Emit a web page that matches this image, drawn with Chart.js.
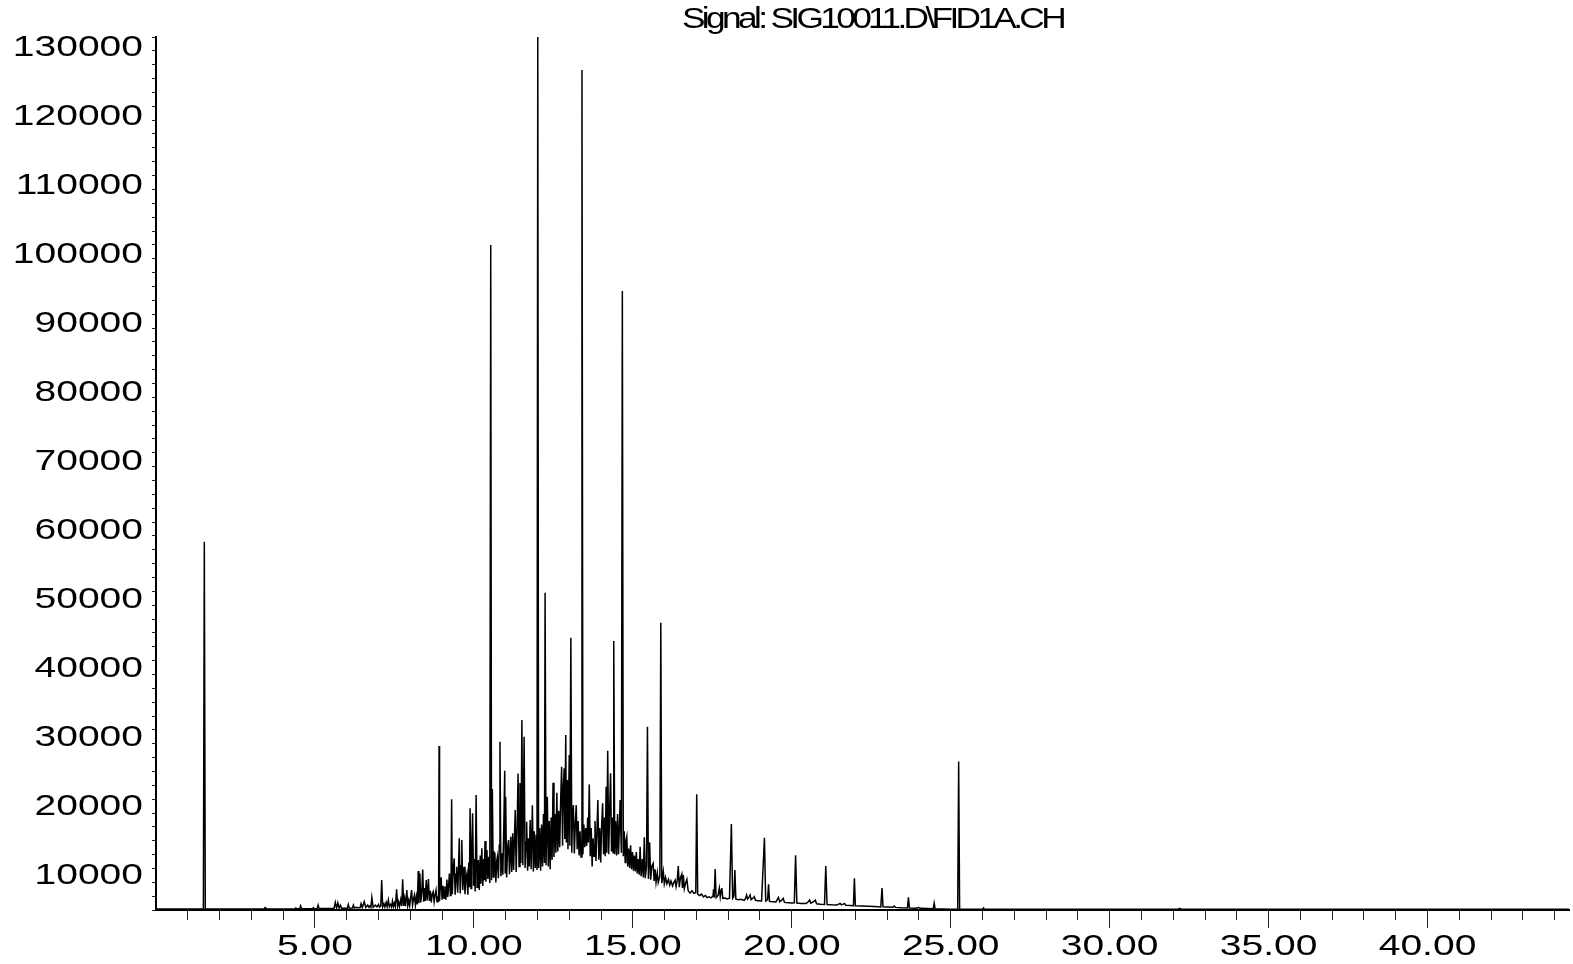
<!DOCTYPE html>
<html>
<head>
<meta charset="utf-8">
<title>SIG10011.D FID1A</title>
<script src="https://cdn.jsdelivr.net/npm/chart.js@4.4.1/dist/chart.umd.min.js"></script>
<style>
  html, body { margin: 0; padding: 0; background: #fff; }
  canvas { display: block; }
</style>
</head>
<body>
<canvas id="fidChart" width="1573" height="964"></canvas>
<script>
const traceColor = '#000000';
const axisColor = '#000000';
const tickColor = '#222222';
const signalTitle = 'Signal: SIG10011.D\\FID1A.CH';

// [retention time (min), FID response]
const solventRegion = [
    [0.00, 4760], [1.49, 4760], [1.52, 58000], [1.55, 4780], [3.40, 4760], [3.43, 4950], [3.46, 4760],
    [4.37, 4770], [4.40, 4900], [4.43, 4780], [4.52, 4780], [4.55, 5200], [4.58, 4790], [4.92, 4790],
    [4.95, 4950], [4.98, 4790], [5.07, 4800], [5.10, 5300], [5.13, 4800], [5.60, 4810], [5.64, 5700],
    [5.68, 4880], [5.72, 5650], [5.76, 4860], [5.80, 5300], [5.84, 4850], [6.02, 4860], [6.05, 5400],
    [6.08, 4870], [6.18, 4880], [6.21, 5300], [6.24, 4900], [6.30, 5000], [6.34, 4920], [6.42, 4930],
    [6.45, 5500], [6.49, 4950], [6.55, 5800], [6.60, 4960], [6.66, 5300], [6.70, 4980], [6.73, 5200],
    [6.76, 4990], [6.79, 6430], [6.83, 5000], [6.90, 5300], [6.95, 5050]
];

const earlyElution = [
    [7.00, 5400], [7.03, 5020], [7.07, 5150], [7.10, 8940], [7.13, 5050], [7.17, 5500], [7.20, 5030],
    [7.24, 5700], [7.27, 5080], [7.31, 6040], [7.34, 5060], [7.38, 5400], [7.41, 5040], [7.44, 5900],
    [7.47, 5100], [7.50, 5600], [7.53, 5070], [7.57, 7600], [7.60, 5150], [7.63, 5800], [7.66, 5100],
    [7.70, 6100], [7.73, 5180], [7.76, 9040], [7.79, 5200], [7.82, 6300], [7.85, 5150], [7.89, 7490],
    [7.92, 5250], [7.95, 6000], [7.98, 5200], [8.01, 6400], [8.04, 7490], [8.07, 5300], [8.10, 6200],
    [8.13, 6770], [8.16, 5300], [8.19, 6500], [8.22, 5400], [8.25, 10250], [8.27, 5600], [8.30, 9900],
    [8.33, 5700], [8.36, 7200], [8.39, 10480], [8.42, 5800], [8.45, 7800], [8.47, 5900], [8.50, 8940],
    [8.53, 6000], [8.57, 9090], [8.60, 5900], [8.63, 7400], [8.66, 5700], [8.69, 6900], [8.72, 7250],
    [8.75, 5800], [8.78, 6800], [8.81, 7490], [8.84, 5800], [8.87, 6600], [8.89, 5750], [8.905, 28370],
    [8.92, 5900], [8.94, 7800], [8.97, 9330], [9.00, 6100], [9.03, 8100], [9.06, 6300], [9.09, 8000],
    [9.12, 6100], [9.15, 9000], [9.18, 6500], [9.21, 8500], [9.23, 9900], [9.26, 6700], [9.28, 7500],
    [9.30, 20640], [9.32, 6900], [9.35, 10500], [9.38, 12090], [9.41, 6800], [9.44, 9800], [9.46, 10870],
    [9.49, 7100], [9.51, 9500], [9.54, 14990], [9.57, 7000], [9.60, 11000], [9.62, 14740], [9.65, 7500],
    [9.69, 10870], [9.72, 6900], [9.75, 9200], [9.78, 9900], [9.81, 6800], [9.84, 11500], [9.86, 7900],
    [9.88, 19340], [9.91, 7700], [9.93, 12500], [9.96, 18610], [9.99, 8100], [10.02, 12000], [10.04, 7300],
    [10.07, 21270], [10.10, 7900], [10.12, 10500], [10.14, 11840], [10.17, 7500], [10.20, 12500],
    [10.22, 8400], [10.25, 13540], [10.28, 8100], [10.31, 12000], [10.33, 8900], [10.35, 14600],
    [10.38, 8700], [10.41, 13290], [10.44, 9100], [10.47, 12300], [10.50, 8500], [10.53, 101000],
    [10.555, 8900], [10.58, 22140], [10.61, 9400], [10.63, 13000], [10.66, 12810], [10.69, 8600],
    [10.72, 11800], [10.74, 12320], [10.77, 9200], [10.80, 14000], [10.82, 29000], [10.85, 9500],
    [10.88, 12810], [10.91, 9700], [10.94, 16500], [10.97, 24790], [10.985, 10000], [11.00, 21000],
    [11.03, 9300], [11.06, 13500], [11.09, 14740], [11.12, 9800], [11.16, 15220], [11.19, 10100],
    [11.22, 15710], [11.25, 10400], [11.27, 14000], [11.30, 19100], [11.33, 10100], [11.36, 16500],
    [11.39, 24400], [11.42, 10900], [11.45, 23000], [11.48, 11400], [11.51, 32140], [11.54, 11100],
    [11.58, 29720]
];

const mainElution = [
    [11.61, 10700], [11.64, 14500], [11.66, 17400], [11.69, 10300], [11.72, 15000], [11.74, 10900],
    [11.77, 17640], [11.80, 10500], [11.84, 19800], [11.87, 10200], [11.90, 16000], [11.93, 10700],
    [11.96, 15500], [11.985, 10400], [12.01, 131160], [12.035, 10700], [12.07, 16500], [12.10, 10300],
    [12.13, 17000], [12.16, 10900], [12.19, 18500], [12.22, 11400], [12.24, 50590], [12.27, 11100],
    [12.31, 21020], [12.34, 10900], [12.37, 17500], [12.40, 10500], [12.43, 18000], [12.46, 11900],
    [12.49, 23050], [12.52, 12300], [12.55, 18500], [12.58, 12900], [12.61, 21600], [12.64, 13100],
    [12.67, 19000], [12.70, 13700], [12.73, 20500], [12.76, 25370], [12.79, 13900], [12.81, 22000],
    [12.84, 25140], [12.86, 14900], [12.89, 29970], [12.91, 14400], [12.94, 23440], [12.96, 13400],
    [13.00, 27070], [13.02, 13900], [13.05, 44080], [13.08, 12900], [13.10, 18000], [13.13, 19800],
    [13.16, 12800], [13.19, 17000], [13.22, 19800], [13.25, 13400], [13.28, 17500], [13.31, 12500],
    [13.34, 16000], [13.37, 12300], [13.40, 126390], [13.43, 12700], [13.46, 17000], [13.49, 13700],
    [13.52, 16500], [13.55, 13900], [13.58, 18000], [13.60, 14400], [13.63, 22800], [13.66, 12400],
    [13.69, 16500], [13.72, 10900], [13.75, 15000], [13.78, 12400], [13.81, 17500], [13.84, 11700],
    [13.87, 16000], [13.90, 20540], [13.93, 11900], [13.96, 16500], [13.99, 11500], [14.02, 17000],
    [14.05, 20060], [14.08, 12700], [14.11, 18000], [14.13, 12400], [14.16, 22470], [14.18, 12900],
    [14.21, 27690], [14.24, 12700], [14.27, 19000], [14.30, 24410], [14.33, 13100], [14.36, 18000],
    [14.38, 12900], [14.40, 43600], [14.43, 12700], [14.46, 17500], [14.49, 12500], [14.52, 18500],
    [14.55, 12700], [14.58, 17000], [14.60, 20540], [14.64, 12900], [14.67, 94350], [14.70, 12400],
    [14.73, 16000], [14.76, 11500], [14.78, 14500], [14.81, 15220], [14.84, 10900], [14.87, 13500],
    [14.90, 10700], [14.93, 14000], [14.96, 10500], [14.99, 13000], [15.02, 10300], [15.05, 12500],
    [15.08, 10200], [15.11, 13000], [15.14, 9900], [15.17, 12000], [15.20, 9700], [15.23, 13770],
    [15.26, 9500], [15.30, 12000], [15.33, 9300], [15.36, 15130], [15.39, 9200], [15.43, 11000],
    [15.46, 31170], [15.49, 9100]
];

const tailRegion = [
    [15.53, 14400], [15.56, 9000], [15.60, 11000], [15.64, 11360], [15.67, 8800], [15.70, 10500],
    [15.73, 8600], [15.77, 10000], [15.80, 8600], [15.85, 9500], [15.88, 46250], [15.91, 8500],
    [15.96, 10150], [15.99, 8400], [16.03, 9300], [16.07, 8400], [16.12, 9040], [16.16, 8200],
    [16.20, 8800], [16.25, 8100], [16.29, 8600], [16.33, 8940], [16.36, 8000], [16.40, 9000],
    [16.43, 10970], [16.46, 7900], [16.50, 9300], [16.54, 9810], [16.56, 7800], [16.59, 9670],
    [16.62, 7700], [16.66, 8500], [16.70, 9040], [16.74, 7400], [16.80, 7050], [16.86, 7400],
    [16.92, 7000], [16.98, 7100], [17.01, 21380], [17.04, 6900], [17.10, 6700], [17.16, 6900],
    [17.22, 6500], [17.28, 6700], [17.34, 6400], [17.40, 6500], [17.46, 6350], [17.52, 6600],
    [17.54, 7590], [17.56, 6400], [17.59, 10540], [17.62, 6400], [17.68, 6700], [17.72, 7780],
    [17.75, 6500], [17.78, 7500], [17.80, 7780], [17.83, 6300], [17.90, 6350], [17.96, 6200],
    [18.04, 6300], [18.10, 17060], [18.14, 6300], [18.18, 6600], [18.21, 10390], [18.24, 6200],
    [18.30, 6100], [18.40, 6150], [18.50, 6000], [18.55, 6300], [18.58, 6770], [18.61, 6200],
    [18.66, 6500], [18.69, 6770], [18.72, 6100], [18.80, 6400], [18.82, 6530], [18.86, 6000],
    [18.95, 5950], [19.05, 5900], [19.14, 15080], [19.18, 5900], [19.24, 6100], [19.27, 8320],
    [19.30, 5850], [19.40, 5800], [19.50, 5750], [19.58, 6430], [19.62, 5800], [19.68, 6000],
    [19.73, 6290], [19.77, 5700], [19.90, 5650], [20.00, 5600], [20.08, 5650], [20.12, 12520],
    [20.16, 5600], [20.30, 5560], [20.45, 5550], [20.52, 5800], [20.56, 6040], [20.60, 5600],
    [20.70, 5850], [20.74, 6040], [20.78, 5500], [20.90, 5420], [21.03, 5400], [21.07, 10970],
    [21.11, 5400], [21.25, 5350], [21.40, 5320], [21.48, 5450], [21.52, 5560], [21.56, 5350],
    [21.62, 5450], [21.66, 5560], [21.70, 5300], [21.85, 5250], [21.94, 5220], [21.97, 9190],
    [22.00, 5220], [22.20, 5180], [22.40, 5150], [22.60, 5100], [22.80, 5050], [22.84, 7800],
    [22.87, 5050], [23.00, 5030], [23.18, 5000], [23.22, 5170], [23.26, 4980], [23.45, 4930],
    [23.64, 4900], [23.67, 6450], [23.70, 4900], [23.90, 4860], [23.99, 4950], [24.05, 4840],
    [24.30, 4800], [24.45, 4780], [24.48, 5600], [24.51, 4780], [24.80, 4750], [25.00, 4720],
    [25.22, 4720], [25.25, 26140], [25.28, 4720], [25.60, 4710], [26.00, 4720], [26.03, 4900],
    [26.06, 4710], [28.00, 4700], [32.15, 4700], [32.20, 4850], [32.25, 4700], [44.45, 4700]
];

const yLabels = [10000, 20000, 30000, 40000, 50000, 60000, 70000, 80000, 90000, 100000, 110000, 120000, 130000];
const xLabels = [5, 10, 15, 20, 25, 30, 35, 40];

const trace = [].concat(solventRegion, earlyElution, mainElution, tailRegion)
    .map(([t, v]) => ({ x: t, y: v }));

// Tick labels and title, drawn a little wider than the stock font
const axisText = {
    id: 'axisText',
    afterDraw(chart) {
        const { ctx, scales: { x, y } } = chart;
        ctx.save();
        ctx.fillStyle = '#000';
        ctx.font = '30px "Liberation Sans", Arial, sans-serif';
        ctx.textBaseline = 'alphabetic';

        ctx.textAlign = 'right';
        yLabels.forEach(v => {
            ctx.save();
            ctx.translate(y.right - 13, y.getPixelForValue(v) + 11);
            ctx.scale(1.3, 1);
            ctx.fillText(String(v), 0, 0);
            ctx.restore();
        });

        ctx.textAlign = 'center';
        xLabels.forEach(t => {
            ctx.save();
            ctx.translate(x.getPixelForValue(t), x.top + 45);
            ctx.scale(1.3, 1);
            ctx.fillText(t.toFixed(2), 0, 0);
            ctx.restore();
        });

        ctx.font = '29px "Liberation Sans", Arial, sans-serif';
        ctx.textAlign = 'left';
        ctx.letterSpacing = '-3px';
        const w = ctx.measureText(signalTitle).width;
        ctx.translate(682, 28);
        ctx.scale(381 / w, 1);
        ctx.fillText(signalTitle, 0, 0);
        ctx.restore();
    }
};

const isMajorX = c => c.tick && c.tick.value % 5 === 0;
const isMajorY = c => c.tick && c.tick.value % 10000 === 0;

const fidCtx = document.getElementById('fidChart').getContext('2d');
const fidChart = new Chart(fidCtx, {
    type: 'line',
    data: {
        datasets: [{
            data: trace,
            borderColor: traceColor,
            borderWidth: 1.5,
            pointRadius: 0,
            tension: 0,
            fill: false
        }]
    },
    options: {
        responsive: false,
        animation: false,
        devicePixelRatio: 1,
        layout: { padding: { top: 37, right: 4, left: 0, bottom: 0 } },
        plugins: {
            legend: { display: false },
            tooltip: { enabled: false }
        },
        scales: {
            x: {
                type: 'linear',
                min: 0,
                max: 44.45,
                ticks: { display: false, stepSize: 1, includeBounds: false },
                grid: {
                    drawOnChartArea: false,
                    tickLength: 18,
                    tickWidth: 1,
                    tickColor: c => (c.tick && c.tick.value === 0) ? 'rgba(0,0,0,0)' : tickColor,
                    tickBorderDash: c => isMajorX(c) ? [] : [9, 30]
                },
                border: { color: axisColor, width: 2 },
                afterFit: scale => { scale.height = 54; }
            },
            y: {
                min: 4600,
                max: 131160,
                ticks: { display: false, stepSize: 2000, includeBounds: false },
                grid: {
                    drawOnChartArea: false,
                    tickLength: 6,
                    tickWidth: 1,
                    tickColor: tickColor,
                    tickBorderDash: c => isMajorY(c) ? [] : [3, 2],
                    tickBorderDashOffset: c => isMajorY(c) ? 0 : 3
                },
                border: { color: axisColor, width: 2 },
                afterFit: scale => { scale.width = 156; }
            }
        }
    },
    plugins: [axisText]
});
</script>
</body>
</html>
